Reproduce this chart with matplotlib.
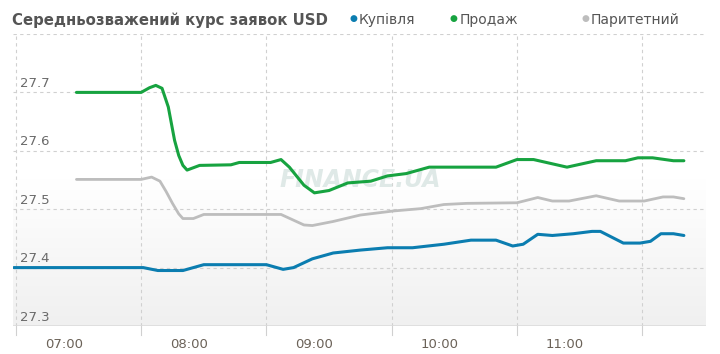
import numpy as np
import pandas as pd
import matplotlib
matplotlib.use('Agg')
import matplotlib.pyplot as plt

# --- data (time, rate) ---
buy_time = ['06:36', '07:38', '07:45', '07:57', '08:07', '08:37', '08:45', '08:50',
            '08:59', '09:09', '09:22', '09:35', '09:47', '10:02', '10:15', '10:27',
            '10:35', '10:40', '10:47', '10:54', '11:04', '11:13', '11:17', '11:28',
            '11:36', '11:41', '11:46', '11:52', '11:57']
buy_rate = [27.400, 27.400, 27.395, 27.395, 27.405, 27.405, 27.397, 27.400,
            27.415, 27.425, 27.430, 27.434, 27.434, 27.440, 27.447, 27.447,
            27.437, 27.440, 27.457, 27.455, 27.458, 27.462, 27.462, 27.442,
            27.442, 27.445, 27.458, 27.458, 27.455]

sell_time = ['07:06', '07:37', '07:41', '07:44', '07:47', '07:50', '07:53', '07:55',
             '07:57', '07:59', '08:05', '08:20', '08:24', '08:39', '08:44', '08:48',
             '08:55', '09:00', '09:07', '09:16', '09:27', '09:35', '09:44', '09:55',
             '10:27', '10:37', '10:45', '11:01', '11:15', '11:29', '11:35', '11:42',
             '11:52', '11:57']
sell_rate = [27.700, 27.700, 27.708, 27.712, 27.707, 27.675, 27.618, 27.592,
             27.575, 27.567, 27.575, 27.576, 27.580, 27.580, 27.585, 27.572,
             27.541, 27.528, 27.532, 27.545, 27.548, 27.557, 27.561, 27.572,
             27.572, 27.585, 27.585, 27.572, 27.583, 27.583, 27.588, 27.588,
             27.583, 27.583]

par_time = ['07:06', '07:37', '07:42', '07:46', '07:49', '07:52', '07:55', '07:57',
            '08:02', '08:07', '08:44', '08:55', '08:59', '09:09', '09:22', '09:38',
            '09:51', '10:02', '10:13', '10:37', '10:47', '10:54', '11:02', '11:15',
            '11:26', '11:38', '11:47', '11:52', '11:57']
par_rate = [27.551, 27.551, 27.555, 27.548, 27.530, 27.510, 27.492, 27.484,
            27.484, 27.491, 27.491, 27.473, 27.472, 27.479, 27.490, 27.497,
            27.501, 27.508, 27.510, 27.511, 27.520, 27.514, 27.514, 27.523,
            27.514, 27.514, 27.521, 27.521, 27.518]

hour_labels = ['07:00', '08:00', '09:00', '10:00', '11:00']
y_ticks = [27.3, 27.4, 27.5, 27.6, 27.7]


def to_min(times):
    t = pd.to_datetime(pd.Series(times), format='%H:%M')
    return (t.dt.hour * 60 + t.dt.minute).to_numpy()


W, H = 720, 354
fig = plt.figure(figsize=(W / 100, H / 100), dpi=100)
ax = fig.add_axes([13 / W, (H - 326) / H, (706 - 13) / W, (326 - 34) / H])

x0, x1 = 420 - 24.4, 420 + 307.6
ax.set_xlim(x0, x1)
ax.set_ylim(27.3, 27.8)

# faint grey gradient in the lower part of the plot area
yy = np.linspace(0, 1, 200)
shade = np.clip((0.5 - yy) / 0.5, 0, 1)
grad = np.column_stack([shade, shade])
ax.imshow(grad, extent=[x0, x1, 27.3, 27.8], origin='lower', aspect='auto',
          cmap=matplotlib.colors.LinearSegmentedColormap.from_list('g', ['#ffffff', '#f0f0f0']),
          vmin=0, vmax=1, zorder=0)

# grid
for v in [27.3, 27.4, 27.5, 27.6, 27.7, 27.8]:
    ax.axhline(v, color='#d0d0d0', lw=0.8, ls=(0, (3, 3)), zorder=1)
for g in np.arange(397, x1, 60):
    ax.axvline(g, color='#d0d0d0', lw=0.8, ls=(0, (3, 3)), zorder=1)
    ax.plot([g, g], [0, -0.03], transform=ax.get_xaxis_transform(),
            color='#d0d0d0', lw=0.8, clip_on=False)
ax.axhline(27.3, color='#dcdcdc', lw=1.2, zorder=1)

for s in ax.spines.values():
    s.set_visible(False)
ax.set_xticks([])
ax.set_yticks([])

# y labels sit just above their gridlines
for v in y_ticks:
    ax.text(x0 + 3.3, v + 0.004, f'{v:.1f}', fontsize=9.5, color='#6a6a6a',
            ha='left', va='bottom', zorder=5)

# x labels
for lab in hour_labels:
    ax.text(to_min([lab])[0], 27.3 - 0.02, lab, fontsize=9.5, color='#6b6258',
            ha='center', va='top', clip_on=False)

# watermark
ax.text(x0 + (360 - 13) / 693 * (x1 - x0), 27.55, 'FINANCE.UA',
        fontsize=17, style='italic', color='#dfe9e7',
        ha='center', va='center', zorder=2, fontweight='bold')

ax.plot(to_min(buy_time), buy_rate, color='#0b7db0', lw=2.2, zorder=4,
        solid_capstyle='round', solid_joinstyle='round')
ax.plot(to_min(par_time), par_rate, color='#bdbdbd', lw=2.0, zorder=4,
        solid_capstyle='round', solid_joinstyle='round')
ax.plot(to_min(sell_time), sell_rate, color='#17a340', lw=2.2, zorder=4,
        solid_capstyle='round', solid_joinstyle='round')

# title + legend row
fig.text(12 / W, 1 - 20 / H, 'Середньозважений курс заявок USD', fontsize=10.7,
         fontweight='bold', color='#555555', va='center', ha='left')
legend = [('Купівля', '#0b7db0', 349), ('Продаж', '#17a340', 450), ('Паритетний', '#bdbdbd', 581)]
for name, col, px in legend:
    fig.text(px / W, 1 - 19 / H, '●', fontsize=6.5, color=col, va='center', ha='left')
    fig.text((px + 10) / W, 1 - 20 / H, name, fontsize=10, color='#555555',
             va='center', ha='left')

fig.savefig('out.png', dpi=100)
